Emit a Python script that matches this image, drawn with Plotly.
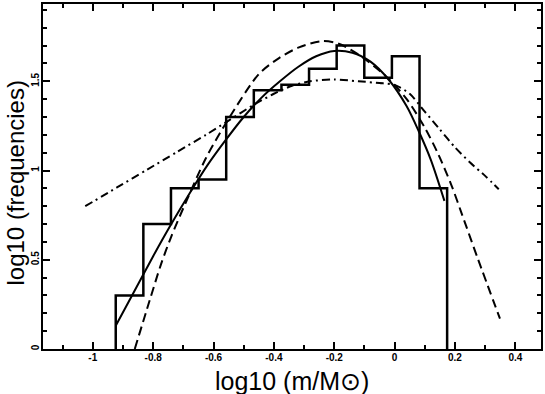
import plotly.graph_objects as go

# histogram of log10(m/Msun)
bin_edges = [-0.924, -0.8325, -0.741, -0.6495, -0.558, -0.4665, -0.375,
             -0.2835, -0.192, -0.1005, -0.009, 0.0825, 0.174]
bin_heights = [0.30, 0.70, 0.90, 0.95, 1.30, 1.45, 1.48, 1.57, 1.70, 1.52, 1.64, 0.90]

# fitted curves
solid_x = [-0.924, -0.87, -0.80, -0.74, -0.68, -0.62, -0.56, -0.50, -0.44, -0.38,
           -0.32, -0.26, -0.20, -0.14, -0.08, -0.02, 0.04, 0.08, 0.12, 0.165]
solid_y = [0.13, 0.30, 0.52, 0.70, 0.87, 1.03, 1.17, 1.30, 1.41, 1.50,
           1.58, 1.64, 1.67, 1.66, 1.61, 1.51, 1.36, 1.22, 1.06, 0.83]

dashed_x = [-0.861, -0.812, -0.773, -0.74, -0.70, -0.625, -0.55, -0.45, -0.383, -0.317,
            -0.24, -0.185, -0.12, -0.03, 0.04, 0.10, 0.145, 0.19, 0.222, 0.277, 0.349]
dashed_y = [0.0, 0.27, 0.48, 0.63, 0.79, 1.07, 1.29, 1.54, 1.63, 1.69,
            1.725, 1.71, 1.65, 1.53, 1.40, 1.24, 1.09, 0.91, 0.76, 0.50, 0.17]

dotdash_x = [-1.025, -0.92, -0.82, -0.72, -0.625, -0.55, -0.465, -0.40, -0.34, -0.28,
             -0.20, -0.12, -0.05, 0.0, 0.05, 0.10, 0.15, 0.20, 0.25, 0.30, 0.345]
dotdash_y = [0.80, 0.905, 1.005, 1.105, 1.20, 1.28, 1.37, 1.43, 1.475, 1.50,
             1.51, 1.50, 1.49, 1.48, 1.43, 1.33, 1.23, 1.13, 1.045, 0.97, 0.895]

x_ticks = [-1, -0.8, -0.6, -0.4, -0.2, 0, 0.2, 0.4]
x_ticklabels = ["-1", "-0.8", "-0.6", "-0.4", "-0.2", "0", "0.2", "0.4"]
y_ticks = [0, 0.5, 1, 1.5]
y_ticklabels = ["0", "0.5", "1", "1.5"]

# step outline: up from zero at first edge, down to zero at last edge
hist_x = [bin_edges[0]] + bin_edges + [bin_edges[-1]]
hist_y = [0] + bin_heights + [bin_heights[-1], 0]

fig = go.Figure()
fig.add_trace(go.Scatter(x=hist_x, y=hist_y, mode="lines", line_shape="hv",
                         line=dict(color="black", width=2.5)))
fig.add_trace(go.Scatter(x=dotdash_x, y=dotdash_y, mode="lines", line_shape="spline",
                         line=dict(color="black", width=2, dash="8px,4px,2px,4px", smoothing=0.7)))
fig.add_trace(go.Scatter(x=dashed_x, y=dashed_y, mode="lines", line_shape="spline",
                         line=dict(color="black", width=2, dash="9px,5px", smoothing=0.8)))
fig.add_trace(go.Scatter(x=solid_x, y=solid_y, mode="lines", line_shape="spline",
                         line=dict(color="black", width=2, smoothing=0.8)))

axis_common = dict(
    showline=True, linecolor="black", linewidth=2, mirror="allticks",
    ticks="inside", ticklen=7, tickwidth=1.5, tickcolor="black",
    showgrid=False, zeroline=False,
    tickfont=dict(family="Liberation Sans", size=10, color="black", weight="bold"),
)

title_font = dict(family="Liberation Sans", color="black")

fig.update_layout(
    width=545, height=394,
    margin=dict(l=43, r=2, t=3, b=45),
    paper_bgcolor="white", plot_bgcolor="white",
    showlegend=False,
    xaxis=dict(axis_common, range=[-1.165, 0.485], tickvals=x_ticks, ticktext=x_ticklabels,
               ticklabelstandoff=-2,
               minor=dict(ticks="inside", dtick=0.1, tick0=0, ticklen=4, tickcolor="black")),
    yaxis=dict(axis_common, range=[0, 1.933], tickvals=y_ticks, ticktext=y_ticklabels,
               tickangle=-90, ticklabelstandoff=-2,
               minor=dict(ticks="inside", dtick=0.1, tick0=0, ticklen=4, tickcolor="black")),
    annotations=[
        dict(text="log10 (m/M\u2299)", xref="paper", yref="paper", x=0.5, y=-0.092,
             xanchor="center", yanchor="middle", showarrow=False,
             font=dict(title_font, size=25)),
        dict(text="log10 (frequencies)", xref="paper", yref="paper", x=-0.056, y=0.48,
             xanchor="center", yanchor="middle", textangle=-90, showarrow=False,
             font=dict(title_font, size=24)),
    ],
)

# drop the browser's default body margin so the 545x394 figure fills the window
fig.write_html("out.html", config={"displayModeBar": False},
               post_script="document.body.style.margin='0px';")
